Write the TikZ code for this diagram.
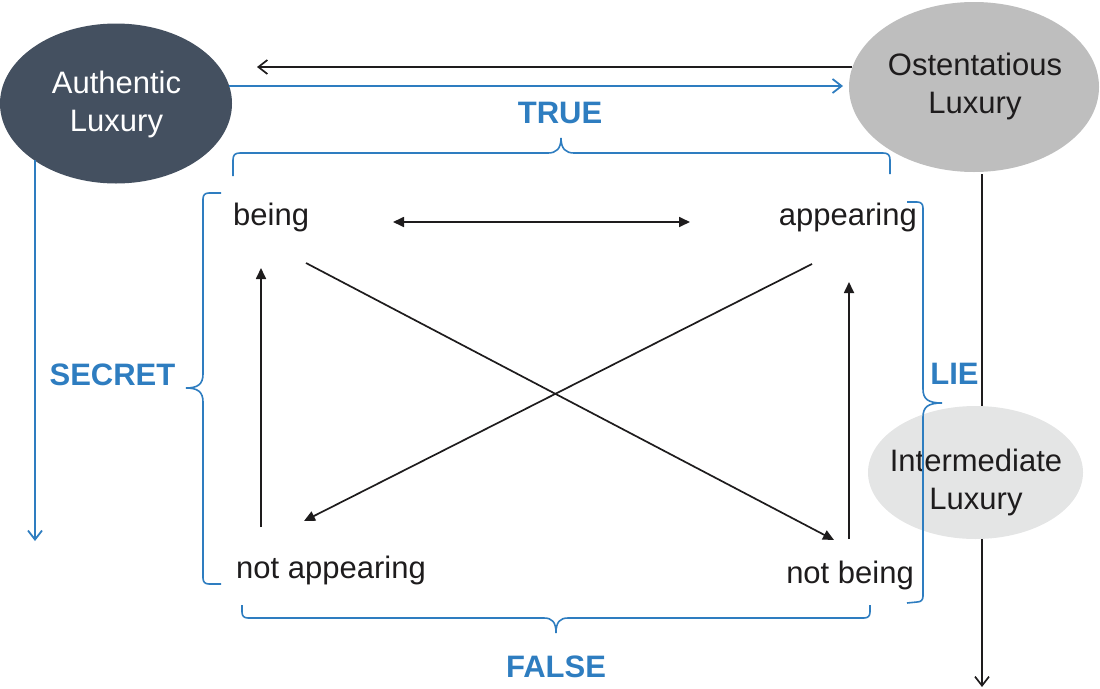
\documentclass[tikz,border=0pt]{standalone}
\usepackage{fontspec}
\setmainfont{Liberation Sans}
\usetikzlibrary{arrows.meta,shapes.geometric}
\definecolor{txt}{RGB}{30,28,29}
\definecolor{lblue}{RGB}{46,125,192}
\definecolor{authc}{RGB}{68,80,96}
\definecolor{ostc}{RGB}{190,190,190}
\definecolor{intc}{RGB}{228,229,229}
\tikzset{
  ell/.style={ellipse, draw=none, inner sep=0pt},
  ltext/.style={font=\fontsize{31}{38}\selectfont, text=txt, inner sep=0pt, align=center},
  blab/.style={font=\fontsize{31}{38}\selectfont\bfseries, text=lblue, inner sep=0pt},
  blk/.style={draw=txt, line width=1.7pt},
  tri/.style={-{Triangle[length=11pt,width=10pt]}},
  barb/.style={-{Straight Barb[length=9pt,width=14pt]}},
  blu/.style={draw=lblue, line width=1.8pt},
  brace/.style={draw=lblue, line width=1.6pt}
}
\begin{document}
\begin{tikzpicture}[x=1pt,y=-1pt]
\useasboundingbox (0,0) rectangle (1100,688);

% ellipses
\node[ell, fill=authc, minimum width=232pt, minimum height=160pt] (AL) at (116,103.5) {};
\node[ltext, text=white] (ALt) at (116.5,104.5) {Authentic\\Luxury};
\node[ell, fill=ostc, minimum width=250pt, minimum height=170pt] (OL) at (974,87) {};
\node[ltext] (OLt) at (975,86) {Ostentatious\\Luxury};

% vertical black line through intermediate
\coordinate (ostb) at (982,174);
\coordinate (bot) at (982,687);
\draw[blk, barb] (ostb) -- (bot);

\node[ell, fill=intc, minimum width=215pt, minimum height=133pt] (IL) at (975.5,472.5) {};
\node[ltext] (ILt) at (976,482) {Intermediate\\Luxury};

% top arrows
\coordinate (ostl) at (852,67);
\coordinate (auth1) at (257,67);
\draw[blk, barb] (ostl) -- (auth1);
\coordinate (authr) at (229,86);
\coordinate (ostt) at (843,86);
\draw[blu, barb] (authr) -- (ostt);

% blue vertical arrow
\coordinate (authb) at (35,160);
\coordinate (sec) at (35,541);
\draw[blu, barb] (authb) -- (sec);

% labels
\node[blab, anchor=base] (TRUE) at (560,123) {TRUE};
\node[blab, anchor=base] (FALSE) at (556,677) {FALSE};
\node[blab, anchor=base] (SECRET) at (112.5,385) {SECRET};
\node[blab, anchor=base] (LIE) at (954.5,384) {LIE};

% square texts
\node[ltext, anchor=base west] (being) at (233,225) {being};
\node[ltext, anchor=base east] (appearing) at (917,225) {appearing};
\node[ltext, anchor=base west] (notapp) at (236,578) {not appearing};
\node[ltext, anchor=base east] (notbeing) at (914,583) {not being};

% inner arrows
\coordinate (b1) at (393,222);
\coordinate (a1) at (690,222);
\draw[blk, {Triangle[length=11pt,width=10pt]}-{Triangle[length=11pt,width=10pt]}] (b1) -- (a1);
\coordinate (na1) at (261,527);
\coordinate (b2) at (261,268);
\draw[blk, tri] (na1) -- (b2);
\coordinate (nb1) at (849,539);
\coordinate (a2) at (849,282);
\draw[blk, tri] (nb1) -- (a2);
\coordinate (b3) at (306,263);
\coordinate (nb2) at (834,540);
\draw[blk, tri] (b3) -- (nb2);
\coordinate (a3) at (812,264);
\coordinate (na2) at (304,521);
\draw[blk, tri] (a3) -- (na2);

% braces
\draw[brace] (233,176) -- (233,160) .. controls (233,155) and (235,153) .. (240,153) -- (548,153)
  .. controls (556,153) and (561,149) .. (561,138) .. controls (561,149) and (566,153) .. (574,153)
  -- (883,153) .. controls (888,153) and (890,155) .. (890,160) -- (890,174);
\draw[brace] (221,193) -- (209,193) .. controls (205,193) and (203,195) .. (203,199) -- (203,374)
  .. controls (203,384) and (198,388) .. (186,388) .. controls (198,388) and (203,392) .. (203,402)
  -- (203,578) .. controls (203,582) and (205,584) .. (209,584) -- (221,584);
\draw[brace] (907,202) -- (917,202) .. controls (921,202) and (923,204) .. (923,208) -- (923,389)
  .. controls (923,399) and (928,403) .. (942,403) .. controls (928,403) and (923,407) .. (923,417)
  -- (923,596) .. controls (923,600) and (921,602) .. (917,602) -- (907,603);
\draw[brace] (242,605) -- (242,612) .. controls (242,616) and (244,618) .. (248,618) -- (544,618)
  .. controls (552,618) and (556,622) .. (556,633) .. controls (556,622) and (560,618) .. (568,618)
  -- (864,618) .. controls (868,618) and (870,616) .. (870,612) -- (870,605);
\end{tikzpicture}
\end{document}
